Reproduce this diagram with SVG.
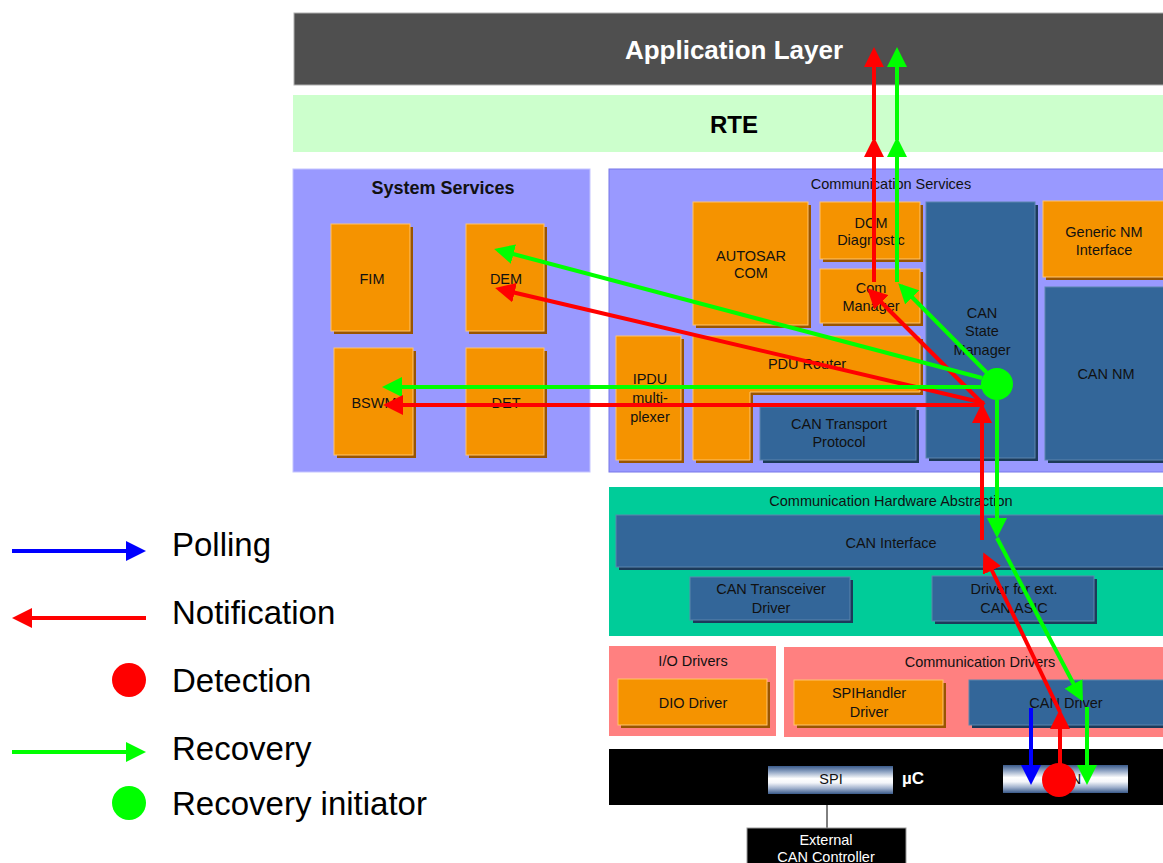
<svg xmlns="http://www.w3.org/2000/svg" width="1163" height="863" viewBox="0 0 1163 863">
<defs>
<style>
text{font-family:"Liberation Sans",Arial,sans-serif;}
.lbl{font-size:14.5px;fill:#111;text-anchor:middle;}
.wlbl{font-size:14.5px;fill:#fff;text-anchor:middle;}
.leg{font-size:33px;fill:#000;}
.org{fill:#f59300;stroke:#ffc46e;stroke-width:1;}
.orgsh{fill:#9a5500;}
.blu{fill:#336699;stroke:#5c85ad;stroke-width:1;}
.blush{fill:#1c3a5a;}
.r{stroke:#ff0000;stroke-width:4;fill:none;marker-end:url(#ahR);}
.g{stroke:#00ff00;stroke-width:4;fill:none;marker-end:url(#ahG);}
.b{stroke:#0000ff;stroke-width:4;fill:none;marker-end:url(#ahB);}
</style>
<marker id="ahR" markerUnits="userSpaceOnUse" markerWidth="20" markerHeight="20" viewBox="0 0 20 20" refX="16" refY="10" orient="auto"><path d="M0,0 L20,10 L0,20 z" fill="#ff0000"/></marker>
<marker id="ahG" markerUnits="userSpaceOnUse" markerWidth="20" markerHeight="20" viewBox="0 0 20 20" refX="16" refY="10" orient="auto"><path d="M0,0 L20,10 L0,20 z" fill="#00ff00"/></marker>
<marker id="ahB" markerUnits="userSpaceOnUse" markerWidth="20" markerHeight="20" viewBox="0 0 20 20" refX="16" refY="10" orient="auto"><path d="M0,0 L20,10 L0,20 z" fill="#0000ff"/></marker>
<linearGradient id="chip" x1="0" y1="0" x2="0" y2="1">
<stop offset="0" stop-color="#3a5a8a"/>
<stop offset="0.2" stop-color="#8da2c2"/>
<stop offset="0.45" stop-color="#ffffff"/>
<stop offset="0.6" stop-color="#f4f6fa"/>
<stop offset="0.8" stop-color="#9fb0cc"/>
<stop offset="1" stop-color="#3a5a8a"/>
</linearGradient>
</defs>
<rect width="1163" height="863" fill="#fff"/>

<g id="application-layer">
<rect x="294" y="13" width="875" height="72" fill="#4f4f4f" stroke="#b0b0b0" stroke-width="1"/>
<text x="734" y="59" style="font-size:26px;font-weight:bold;fill:#fff;text-anchor:middle">Application Layer</text>
</g>
<g id="rte">
<rect x="293" y="95" width="875" height="57" fill="#ccffcc"/>
<text x="734" y="133" style="font-size:24px;font-weight:bold;fill:#000;text-anchor:middle">RTE</text>
</g>

<g id="system-services">
<rect x="293" y="169" width="297" height="303" fill="#9999ff" stroke="#c4c4ff" stroke-width="1"/>
<text x="443" y="194" style="font-size:18px;font-weight:bold;fill:#111;text-anchor:middle">System Services</text>
</g>
<g id="fim"><rect x="334" y="227" width="79" height="107" class="orgsh"/><rect x="331" y="224" width="79" height="107" class="org"/><text x="372" y="284" class="lbl">FIM</text></g>
<g id="dem"><rect x="469" y="227" width="78" height="107" class="orgsh"/><rect x="466" y="224" width="78" height="107" class="org"/><text x="506" y="284" class="lbl">DEM</text></g>
<g id="bswm"><rect x="337" y="351" width="79" height="107" class="orgsh"/><rect x="334" y="348" width="79" height="107" class="org"/><text x="374" y="408" class="lbl">BSWM</text></g>
<g id="det"><rect x="469" y="351" width="78" height="107" class="orgsh"/><rect x="466" y="348" width="78" height="107" class="org"/><text x="506" y="408" class="lbl">DET</text></g>

<g id="communication-services">
<rect x="609" y="169" width="560" height="303" fill="#9999ff" stroke="#7777e8" stroke-width="1"/>
<text x="891" y="189" class="lbl">Communication Services</text>
</g>
<g id="autosar-com"><rect x="696" y="205" width="115" height="123" class="orgsh"/><rect x="693" y="202" width="115" height="123" class="org"/><text x="751" y="261" class="lbl">AUTOSAR</text><text x="751" y="278" class="lbl">COM</text></g>
<g id="dcm"><rect x="823" y="205" width="100" height="57" class="orgsh"/><rect x="820" y="202" width="100" height="57" class="org"/><text x="871" y="228" class="lbl">DCM</text><text x="871" y="245" class="lbl">Diagnostic</text></g>
<g id="com-manager"><rect x="823" y="272" width="100" height="54" class="orgsh"/><rect x="820" y="269" width="100" height="54" class="org"/><text x="871" y="293" class="lbl">Com</text><text x="871" y="311" class="lbl">Manager</text></g>
<g id="can-state-manager"><rect x="929" y="205" width="109" height="256" class="blush"/><rect x="926" y="202" width="109" height="256" class="blu"/><text x="982" y="318" class="lbl">CAN</text><text x="982" y="336" class="lbl">State</text><text x="982" y="355" class="lbl">Manager</text></g>
<g id="generic-nm-interface"><rect x="1046" y="204" width="125" height="76" class="orgsh"/><rect x="1043" y="201" width="125" height="76" class="org"/><text x="1104" y="237" class="lbl">Generic NM</text><text x="1104" y="255" class="lbl">Interface</text></g>
<g id="can-nm"><rect x="1048" y="290" width="125" height="173" class="blush"/><rect x="1045" y="287" width="125" height="173" class="blu"/><text x="1106" y="379" class="lbl">CAN NM</text></g>
<g id="ipdu-multiplexer"><rect x="619" y="339" width="65" height="124" class="orgsh"/><rect x="616" y="336" width="65" height="124" class="org"/><text x="650" y="384" class="lbl">IPDU</text><text x="650" y="403" class="lbl">multi-</text><text x="650" y="422" class="lbl">plexer</text></g>
<g id="pdu-router"><polygon points="696,339 923,339 923,395 753,395 753,463 696,463" class="orgsh"/><polygon points="693,336 920,336 920,392 750,392 750,460 693,460" class="org"/><text x="807" y="369" class="lbl">PDU Router</text></g>
<g id="can-transport-protocol"><rect x="763" y="410" width="156" height="53" class="blush"/><rect x="760" y="407" width="156" height="53" class="blu"/><text x="839" y="429" class="lbl">CAN Transport</text><text x="839" y="447" class="lbl">Protocol</text></g>

<g id="communication-hardware-abstraction">
<rect x="609" y="487" width="560" height="149" fill="#00cc99"/>
<text x="891" y="506" class="lbl">Communication Hardware Abstraction</text>
</g>
<g id="can-interface"><rect x="619" y="518" width="560" height="52" class="blush"/><rect x="616" y="515" width="560" height="52" class="blu"/><text x="891" y="548" class="lbl">CAN Interface</text></g>
<g id="can-transceiver-driver"><rect x="693" y="580" width="160" height="43" class="blush"/><rect x="690" y="577" width="160" height="43" class="blu"/><text x="771" y="594" class="lbl">CAN Transceiver</text><text x="771" y="613" class="lbl">Driver</text></g>
<g id="driver-ext-can-asic"><rect x="935" y="579" width="162" height="45" class="blush"/><rect x="932" y="576" width="162" height="45" class="blu"/><text x="1014" y="594" class="lbl">Driver for ext.</text><text x="1014" y="613" class="lbl">CAN ASIC</text></g>

<g id="io-drivers">
<rect x="609" y="646" width="167" height="90" fill="#ff8080"/>
<text x="693" y="666" class="lbl">I/O Drivers</text>
</g>
<g id="dio-driver"><rect x="621" y="682" width="149" height="46" class="orgsh"/><rect x="618" y="679" width="149" height="46" class="org"/><text x="693" y="708" class="lbl">DIO Driver</text></g>
<g id="communication-drivers">
<rect x="784" y="647" width="385" height="90" fill="#ff8080"/>
<text x="980" y="667" class="lbl">Communication Drivers</text>
</g>
<g id="spihandler-driver"><rect x="797" y="683" width="149" height="45" class="orgsh"/><rect x="794" y="680" width="149" height="45" class="org"/><text x="869" y="698" class="lbl">SPIHandler</text><text x="869" y="717" class="lbl">Driver</text></g>
<g id="can-driver"><rect x="972" y="683" width="200" height="45" class="blush"/><rect x="969" y="680" width="200" height="45" class="blu"/><text x="1066" y="708" class="lbl">CAN Driver</text></g>

<g id="microcontroller">
<rect x="609" y="749" width="560" height="56" fill="#000"/>
<text x="902" y="784" style="font-size:17px;font-weight:bold;fill:#fff">µC</text>
</g>
<g id="spi"><rect x="768" y="766" width="125" height="28" fill="url(#chip)"/><text x="831" y="784" class="lbl">SPI</text></g>
<g id="can-controller"><rect x="1003" y="765" width="125" height="28" fill="url(#chip)"/><text x="1066" y="784" class="lbl">CAN</text></g>
<g id="external-can-controller">
<line x1="827" y1="794" x2="827" y2="828" stroke="#000" stroke-width="1"/>
<rect x="747" y="828" width="159" height="40" fill="#000" stroke="#999" stroke-width="1"/>
<text x="826" y="845" class="wlbl">External</text>
<text x="826" y="862" class="wlbl">CAN Controller</text>
</g>

<g id="connectors">
<line x1="874" y1="282" x2="874" y2="141" class="r"/>
<line x1="874" y1="140" x2="874" y2="51" class="r"/>
<line x1="897" y1="282" x2="897" y2="141" class="g"/>
<line x1="897" y1="140" x2="897" y2="51" class="g"/>
<line x1="984" y1="405" x2="870" y2="291" class="r"/>
<line x1="997" y1="383" x2="901" y2="286" class="g"/>
<line x1="982" y1="378" x2="498" y2="250" class="g"/>
<line x1="984" y1="403" x2="499" y2="289" class="r"/>
<line x1="997" y1="387" x2="386" y2="387" class="g"/>
<line x1="984" y1="405" x2="387" y2="405" class="r"/>
<line x1="982" y1="540" x2="982" y2="407" class="r"/>
<line x1="997" y1="400" x2="997" y2="534" class="g"/>
<line x1="1060" y1="712" x2="985" y2="556" class="r"/>
<line x1="1060" y1="780" x2="1060" y2="713" class="r"/>
<line x1="997" y1="538" x2="1081" y2="698" class="g"/>
<line x1="1087" y1="707" x2="1087" y2="781" class="g"/>
<line x1="1031" y1="708" x2="1031" y2="781" class="b"/>
<circle cx="997" cy="384" r="16" fill="#00ff00"/>
<circle cx="1059" cy="780" r="17" fill="#ff0000"/>
</g>

<g id="legend">
<line x1="12" y1="551" x2="142" y2="551" class="b"/>
<text x="172" y="556" class="leg">Polling</text>
<line x1="146" y1="618" x2="16" y2="618" class="r"/>
<text x="172" y="624" class="leg">Notification</text>
<circle cx="129" cy="680" r="17" fill="#ff0000"/>
<text x="172" y="692" class="leg">Detection</text>
<line x1="12" y1="752" x2="142" y2="752" class="g"/>
<text x="172" y="760" class="leg">Recovery</text>
<circle cx="129" cy="803" r="17" fill="#00ff00"/>
<text x="172" y="815" class="leg">Recovery initiator</text>
</g>
</svg>
